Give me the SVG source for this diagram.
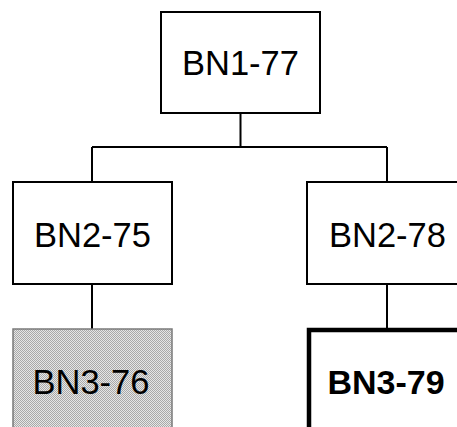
<svg xmlns="http://www.w3.org/2000/svg" width="457" height="427" viewBox="0 0 457 427">
  <style>
    .box { fill: #ffffff; stroke: #000000; stroke-width: 2; }
    .shaded { fill: url(#dither); stroke: #7a7a7a; stroke-width: 1.5; }
    .heavy { fill: #ffffff; stroke: #000000; stroke-width: 4.5; }
    .lbl { font-family: "Liberation Sans", Arial, sans-serif; font-size: 34.5px; fill: #000000; text-anchor: middle; }
    .bold { font-weight: bold; font-size: 34px; }
    .wire { fill: none; stroke: #000000; stroke-width: 2; }
  </style>
  <defs>
    <!-- fine dither used for the shaded node -->
    <pattern id="dither" width="2" height="2" patternUnits="userSpaceOnUse">
      <rect width="2" height="2" fill="#e6e6e6"/>
      <rect width="1" height="1" fill="#a9a9a9"/>
      <rect x="1" y="1" width="1" height="1" fill="#a9a9a9"/>
    </pattern>
  </defs>

  <g id="connectors">
    <path class="wire" d="M240.5 113 V147 M92 147 H387 M92 147 V182 M387 147 V182"/>
    <path class="wire" d="M92 284 V329"/>
    <path class="wire" d="M387 284 V329"/>
  </g>

  <g id="bn1-77">
    <rect class="box" x="161" y="12" width="159" height="101"/>
    <text class="lbl" x="240.5" y="75">BN1-77</text>
  </g>

  <g id="bn2-75">
    <rect class="box" x="13" y="182" width="159" height="102"/>
    <text class="lbl" x="92.5" y="247">BN2-75</text>
  </g>

  <g id="bn2-78">
    <rect class="box" x="307" y="182" width="159" height="102"/>
    <text class="lbl" x="387.5" y="247">BN2-78</text>
  </g>

  <g id="bn3-76">
    <rect class="shaded" x="13" y="329" width="159" height="110"/>
    <text class="lbl" x="91" y="394">BN3-76</text>
  </g>

  <g id="bn3-79">
    <rect class="heavy" x="309" y="330" width="159" height="110"/>
    <text class="lbl bold" x="386" y="394">BN3-79</text>
  </g>
</svg>
